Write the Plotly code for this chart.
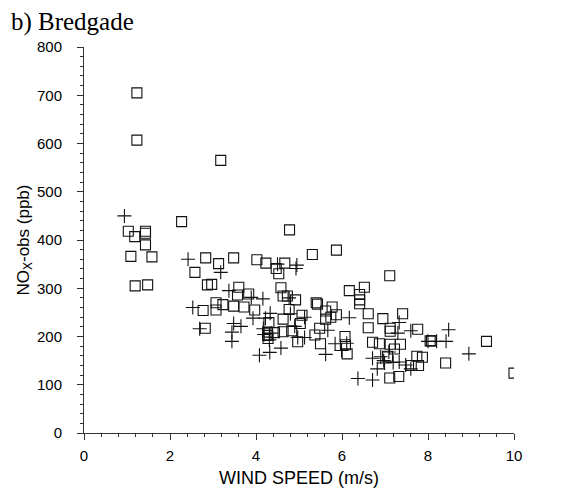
import plotly.graph_objects as go

# open squares
sq_x = [1.23, 1.23, 3.18, 2.27, 1.03, 1.18, 1.43, 1.43, 1.43, 1.09, 1.58, 1.19, 1.48,
        2.83, 3.13, 3.48, 2.58, 2.87, 2.97, 3.60, 3.57, 2.77, 3.07, 3.07, 3.23, 3.48,
        3.72, 3.97, 2.82, 4.78, 4.02, 4.23, 4.47, 4.53, 4.67, 5.31, 5.87, 3.83, 4.58,
        4.63, 4.73, 4.92, 4.77, 5.40, 5.43, 5.07, 5.62, 5.77, 5.87, 5.62, 5.74, 6.17,
        6.52, 6.41, 6.41, 6.41, 6.61, 6.61, 6.95, 7.11, 7.41, 7.12, 7.12, 7.76, 8.05,
        8.08, 9.36, 6.71, 6.87, 7.12, 7.36, 7.22, 6.12, 7.06, 7.74, 7.87, 7.78, 7.61,
        8.41, 7.11, 7.32, 10.0, 4.30, 4.27, 4.27, 4.28, 4.43, 4.63, 4.63, 4.83, 5.03,
        4.97, 5.37, 5.50, 5.48, 6.07, 6.08]
sq_y = [705, 607, 565, 438, 418, 407, 418, 414, 390, 366, 365, 305, 307,
        363, 351, 363, 333, 307, 308, 302, 286, 254, 270, 255, 266, 263,
        261, 255, 217, 421, 359, 352, 341, 330, 352, 370, 379, 288, 301,
        284, 284, 276, 256, 270, 267, 244, 253, 261, 245, 236, 240, 295,
        302, 287, 276, 268, 247, 218, 237, 326, 247, 217, 211, 215, 191,
        191, 190, 188, 185, 184, 184, 174, 164, 159, 159, 157, 140, 140,
        145, 114, 117, 124, 229, 209, 202, 196, 208, 236, 210, 212, 227,
        189, 203, 185, 217, 200, 183]

# plus signs
pl_x = [0.94, 2.42, 3.18, 3.37, 2.53, 3.48, 3.65, 3.44, 3.44, 2.69, 4.50, 4.95, 4.93,
        3.89, 4.16, 4.77, 3.93, 4.33, 4.80, 5.13, 6.17, 4.08, 4.32, 4.58, 4.22, 4.17,
        4.19, 4.35, 4.31, 4.90, 4.97, 5.13, 5.67, 5.84, 6.11, 5.99, 5.62, 6.37, 6.71,
        6.71, 6.82, 6.90, 6.97, 6.99, 7.09, 7.19, 7.33, 7.48, 7.60, 7.33, 7.30, 7.60,
        8.48, 8.00, 8.20, 8.42, 8.95]
pl_y = [450, 360, 333, 295, 260, 227, 221, 209, 190, 216, 350, 348, 341,
        281, 278, 280, 238, 248, 247, 240, 239, 161, 167, 176, 238, 216,
        204, 207, 193, 221, 198, 198, 213, 185, 186, 171, 163, 113, 110,
        155, 133, 158, 150, 145, 168, 146, 147, 141, 133, 229, 207, 212,
        214, 190, 190, 190, 164]

fig = go.Figure()
fig.add_trace(go.Scatter(
    x=pl_x, y=pl_y, mode="markers",
    marker=dict(symbol="cross-thin-open", size=10, color="#111",
                line=dict(width=1.1, color="#111")),
))
fig.add_trace(go.Scatter(
    x=sq_x, y=sq_y, mode="markers",
    marker=dict(symbol="square-open", size=10, color="#111",
                line=dict(width=1.1, color="#111")),
))

axis_font = dict(family="Arial, Liberation Sans, sans-serif", size=15, color="black")
fig.update_layout(
    width=577, height=491,
    margin=dict(l=76, r=71, t=39, b=66),
    plot_bgcolor="white", paper_bgcolor="white",
    showlegend=False,
    font=axis_font,
    title=dict(
        text="b) Bredgade",
        font=dict(family="Liberation Serif, Times New Roman, serif", size=25, color="black"),
        xref="container", yref="container", x=0.005, xanchor="left",
        y=0.972, yanchor="middle",
    ),
)
fig.update_xaxes(
    range=[0, 10], dtick=2, showgrid=False, zeroline=False,
    showline=True, linecolor="#333", linewidth=1,
    ticks="outside", ticklen=6, tickcolor="#333", ticklabelstandoff=3,
    minor=dict(dtick=0.4, ticks="outside", ticklen=3, tickcolor="#333", showgrid=False),
    title=dict(text="WIND SPEED (m/s)", font=dict(size=18), standoff=8),
)
fig.update_yaxes(
    range=[0, 800], dtick=100, showgrid=False, zeroline=False,
    showline=True, linecolor="#333", linewidth=1,
    ticks="outside", ticklen=6, tickcolor="#333", ticklabelstandoff=12,
    minor=dict(dtick=20, ticks="outside", ticklen=3, tickcolor="#333", showgrid=False),
    title=dict(text="NO<sub>X</sub>-obs (ppb)", font=dict(size=17), standoff=3),
)

fig.write_html("out.html")
